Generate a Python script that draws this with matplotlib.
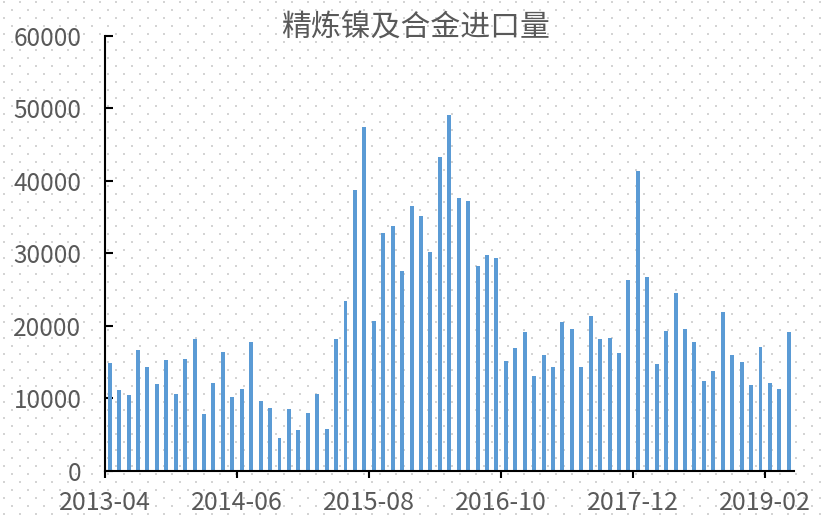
import numpy as np
import pandas as pd
import matplotlib
matplotlib.use("Agg")
import matplotlib.pyplot as plt

plt.rcParams['font.family'] = ['Noto Sans CJK SC', 'DejaVu Sans']

# ---- data ----
months = [p.strftime('%Y-%m') for p in pd.period_range('2013-04', '2019-04', freq='M')]
values = [
    14800, 11100, 10400, 16600, 14300, 11900, 15300, 10600, 15400, 18200,
    7800, 12100, 16300, 10200, 11200, 17700, 9600, 8600, 4500, 8500,
    5600, 8000, 10500, 5750, 18200, 23400, 38750, 47460, 20640, 32750,
    33680, 27600, 36490, 35060, 30220, 43220, 49030, 37550, 37140, 28190,
    29810, 29350, 15060, 16910, 19120, 12990, 15940, 14320, 20500, 19480,
    14230, 21280, 18150, 18330, 16260, 26310, 41330, 26670, 14690, 19300,
    24510, 19480, 17680, 12430, 13770, 21930, 15980, 14920, 11790, 17050,
    12150, 11280, 19120,
]
title = '精炼镍及合金进口量'
yticks = [0, 10000, 20000, 30000, 40000, 50000, 60000]
label_step = 14

W, H = 823, 515
fig = plt.figure(figsize=(W / 100, H / 100), dpi=100)
fig.patch.set_facecolor('white')

# dotted background pattern
bg = fig.add_axes([0, 0, 1, 1], zorder=0)
bg.set_xlim(0, W)
bg.set_ylim(H, 0)
bg.axis('off')
xs1, ys1 = np.meshgrid(np.arange(12, W, 16), np.arange(9.7, H, 16))
xs2, ys2 = np.meshgrid(np.arange(4, W, 16), np.arange(1.7, H, 16))
bg.scatter(np.r_[xs1.ravel(), xs2.ravel()], np.r_[ys1.ravel(), ys2.ravel()],
           marker='s', s=2.2, color='#d4d4d4', linewidths=0)

ax = fig.add_axes([105 / W, 1 - 470.6 / H, (793.5 - 105) / W, (470.6 - 35.7) / H], zorder=1)
ax.set_facecolor('none')

x = np.arange(len(values))
ax.bar(x, values, width=0.42, color='#5B9BD5', zorder=2)

ax.set_xlim(-0.5, len(values) - 0.5)
ax.set_ylim(0, 60000)

tick_idx = list(range(0, len(months), label_step))
ax.set_xticks([i - 0.5 for i in tick_idx])
ax.set_xticklabels([months[i] for i in tick_idx])
ax.set_yticks(yticks)
ax.set_yticklabels([str(v) for v in yticks])

for s in ['top', 'right']:
    ax.spines[s].set_visible(False)
for s in ['left', 'bottom']:
    ax.spines[s].set_linewidth(1.5)
    ax.spines[s].set_color('black')

ax.tick_params(axis='y', direction='in', length=6, width=1.5, pad=17,
               labelsize=17.5, labelcolor='#595959', color='black')
ax.tick_params(axis='x', direction='out', length=5, width=1.5, pad=9,
               labelsize=18, labelcolor='#595959', color='black')

fig.text(416 / W, 1 - 27 / H, title, ha='center', va='center',
         fontsize=21.5, color='#595959')

fig.savefig('out.png', dpi=100)
